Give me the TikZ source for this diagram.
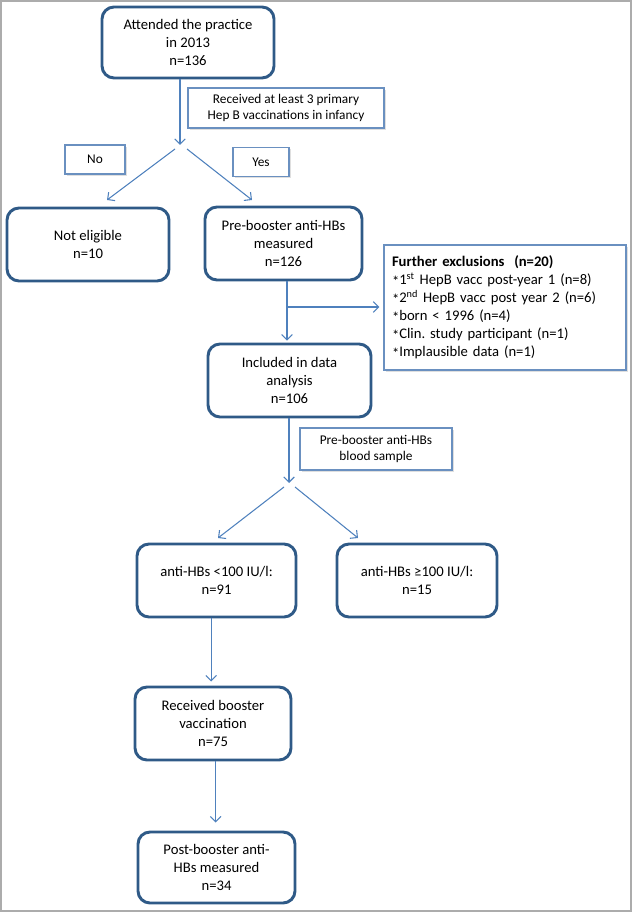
\documentclass[tikz,border=0pt]{standalone}
\usepackage{fontspec}
\setmainfont{Carlito}
\frenchspacing
\usetikzlibrary{arrows.meta,shadows}
\definecolor{boxblue}{HTML}{2F5A87}
\definecolor{arrblue}{HTML}{4F81BD}
\definecolor{labblue}{HTML}{6A90C0}
\newcommand{\astx}{\raisebox{-0.2ex}{*}}
\tikzset{
  mainbox/.style={draw=boxblue, line width=2.2pt, rounded corners=9pt, fill=white,
    align=center, inner sep=0pt, font=\fontsize{11}{13.5}\selectfont},
  labbox/.style={draw=labblue, line width=0.9pt, fill=white, align=center, inner sep=0pt,
    drop shadow={shadow xshift=1.4pt, shadow yshift=-1.4pt, opacity=0.25, fill=gray},
    font=\fontsize{10}{11.5}\selectfont},
  arr/.style={draw=arrblue, line width=0.8pt, -{Straight Barb[length=4pt,width=8pt]}}
}
\begin{document}
\begin{tikzpicture}[x=0.75pt,y=-0.75pt]
\useasboundingbox (0,0) rectangle (632,912);
\draw[gray!65, line width=1.2pt] (0.8,0.8) rectangle (631.2,911.2);

% main boxes
\node[mainbox, minimum width=172*0.75pt, minimum height=71*0.75pt] (top) at (188,42.5)
  {Attended the practice\\in 2013\\n=136};
\node[mainbox, minimum width=162*0.75pt, minimum height=73*0.75pt] (noteli) at (88,244.5)
  {Not eligible\\n=10};
\node[mainbox, minimum width=157*0.75pt, minimum height=73*0.75pt] (pre) at (283.5,243.5)
  {Pre-booster anti-HBs\\measured\\n=126};
\node[mainbox, minimum width=163*0.75pt, minimum height=73*0.75pt] (incl) at (289.5,380.5)
  {Included in data\\analysis\\n=106};
\node[mainbox, minimum width=159*0.75pt, minimum height=73*0.75pt] (lt) at (216.5,580.5)
  {anti-HBs <100 IU/l:\\n=91};
\node[mainbox, minimum width=160*0.75pt, minimum height=73*0.75pt] (ge) at (417,580.5)
  {anti-HBs ≥100 IU/l:\\n=15};
\node[mainbox, minimum width=156*0.75pt, minimum height=73*0.75pt] (boost) at (213,723.5)
  {Received booster\\vaccination\\n=75};
\node[mainbox, minimum width=157*0.75pt, minimum height=71*0.75pt] (post) at (216.5,867.5)
  {Post-booster anti-\\HBs measured\\n=34};

% label boxes
\node[labbox, minimum width=196*0.75pt, minimum height=40*0.75pt] (lab1) at (286,108)
  {Received at least 3 primary\\Hep B vaccinations in infancy};
\node[labbox, minimum width=60*0.75pt, minimum height=29*0.75pt] (no) at (95,159.5) {No};
\node[labbox, minimum width=56*0.75pt, minimum height=29*0.75pt] (yes) at (261,162) {Yes};
\node[labbox, minimum width=152*0.75pt, minimum height=42*0.75pt] (lab2) at (376,449)
  {Pre-booster anti-HBs\\blood sample};
\node[labbox, minimum width=242*0.75pt, minimum height=125*0.75pt,
  text width=226*0.75pt, align=left, font=\fontsize{11}{13.5}\selectfont] (excl) at (505,307.5)
  {\textbf{Further exclusions\ \ (n=20)}\\
   \astx1\textsuperscript{st} HepB vacc post-year 1 (n=8)\\
   \astx2\textsuperscript{nd} HepB vacc post year 2 (n=6)\\
   \astx born < 1996 (n=4)\\
   \astx Clin. study participant (n=1)\\
   \astx Implausible data (n=1)};

% coordinates
\coordinate (s1) at (180,145);
\coordinate (s1l) at (175,149);
\coordinate (s1r) at (187,149);
\coordinate (t1l) at (107,200);
\coordinate (t1r) at (252,200);
\coordinate (b1) at (287,307);
\coordinate (s2) at (289,483);
\coordinate (s2l) at (284,487);
\coordinate (s2r) at (295,487);
\coordinate (t2l) at (218,538);
\coordinate (t2r) at (358,538);

% connectors
\draw[arr] (s1 |- top.south) -- (s1);
\draw[arr] (s1l) -- (t1l);
\draw[arr] (s1r) -- (t1r);
\draw[arr, shorten >=1.5pt] (b1 |- pre.south) -- (b1 |- incl.north);
\draw[arr, shorten >=3pt] (b1) -- (excl.west |- b1);
\draw[arr] (s2 |- incl.south) -- (s2);
\draw[arr] (s2l) -- (t2l);
\draw[arr] (s2r) -- (t2r);
\draw[arr, shorten >=3pt] ([xshift=-4pt]lt.south) -- ([xshift=-4pt]lt.south |- boost.north);
\draw[arr, shorten >=6pt] ([xshift=2pt]boost.south) -- ([xshift=2pt]boost.south |- post.north);
\end{tikzpicture}
\end{document}
